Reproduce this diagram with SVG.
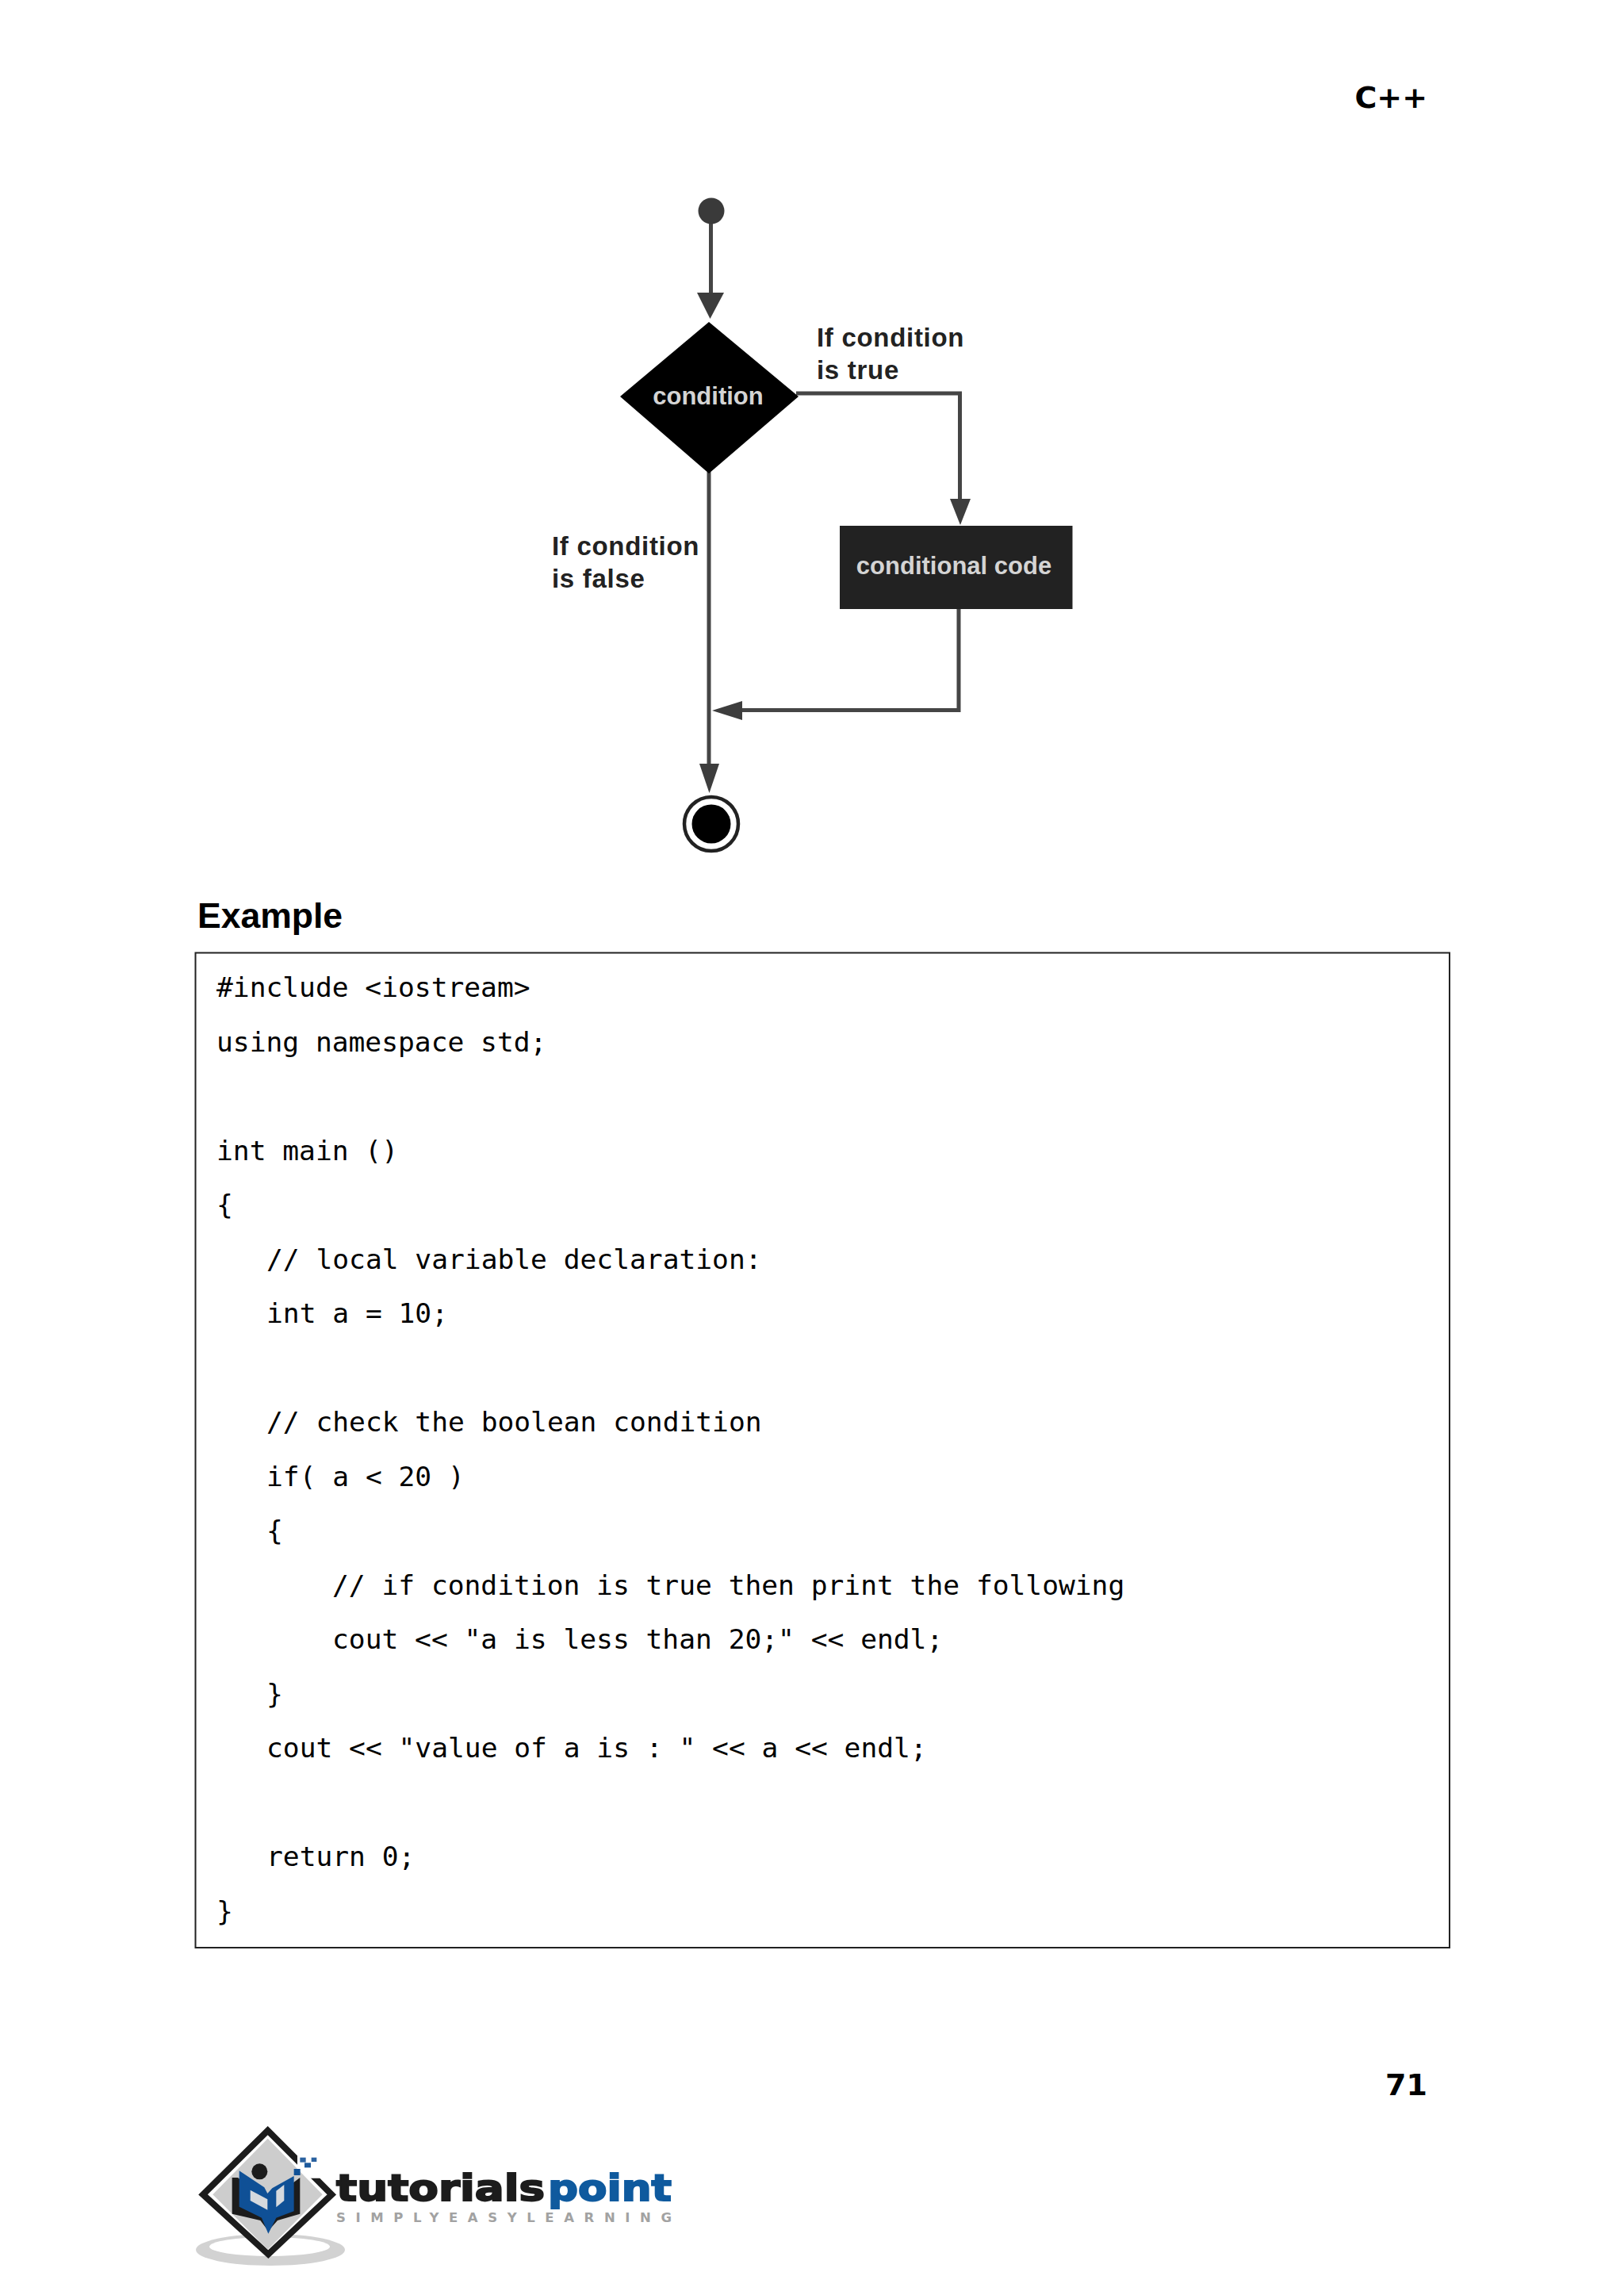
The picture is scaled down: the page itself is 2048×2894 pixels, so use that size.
<svg xmlns="http://www.w3.org/2000/svg" width="2048" height="2894" viewBox="0 0 2048 2894">
<style>
.c{fill:none;stroke:#454545;stroke-width:5}
.a{fill:#3d3d3d}
.lb{font:bold 33px "Liberation Sans",Arial,sans-serif;fill:#222;letter-spacing:.7px}
.nt{font:bold 31px "Liberation Sans",Arial,sans-serif;fill:#d4d4d4;text-anchor:middle}
.hd{font:bold 38px "DejaVu Sans",sans-serif;fill:#000}
.code{font:34.6px "DejaVu Sans Mono","Liberation Mono",monospace;fill:#000}
</style>
<rect width="2048" height="2894" fill="#fff"/>
<text class="hd" x="1800" y="136" text-anchor="end">C++</text>
<g id="connectors">
<path class="c" d="M896.500 280V372"/><polygon class="a" points="879,369 913,369 895.500,402"/>
<path class="c" d="M1004 496H1210.500V630"/><polygon class="a" points="1198,629 1224,629 1211,662"/>
<path class="c" d="M1209 768V895.500H930"/><polygon class="a" points="898,896 936,884 936,908"/>
<path class="c" d="M894 595V965"/><polygon class="a" points="882,963 907,963 894.500,1000"/>
</g>
<g id="start"><circle cx="897" cy="266" r="16.500" fill="#3a3a3a"/></g>
<g id="condition"><polygon points="894,406 1007,500 894,597 782,500" fill="#000"/><text class="nt" x="893" y="510">condition</text></g>
<g id="conditional-code"><rect x="1059" y="663" width="293.500" height="105" fill="#222"/><text class="nt" x="1203" y="724">conditional code</text></g>
<g id="end"><circle cx="897" cy="1039" r="34" fill="#fff" stroke="#222" stroke-width="4.500"/><circle cx="897" cy="1039" r="24.500" fill="#000"/></g>
<g id="labels">
<text class="lb" x="1030" y="437">If condition</text><text class="lb" x="1030" y="478">is true</text>
<text class="lb" x="696" y="700">If condition</text><text class="lb" x="696" y="741">is false</text>
</g>
<text x="249" y="1170" font-family="Liberation Sans,Arial,sans-serif" font-weight="bold" font-size="44.500" fill="#000">Example</text>
<g id="code">
<rect x="246.500" y="1201.500" width="1581.500" height="1254.500" fill="none" stroke="#222" stroke-width="2"/>
<text class="code" x="273" y="1257">#include &lt;iostream&gt;</text>
<text class="code" x="273" y="1325.500">using namespace std;</text>
<text class="code" x="273" y="1462.500">int main ()</text>
<text class="code" x="273" y="1531">{</text>
<text class="code" x="336" y="1599.500">// local variable declaration:</text>
<text class="code" x="336" y="1668">int a = 10;</text>
<text class="code" x="336" y="1805">// check the boolean condition</text>
<text class="code" x="336" y="1873.500">if( a &lt; 20 )</text>
<text class="code" x="336" y="1942">{</text>
<text class="code" x="419" y="2010.500">// if condition is true then print the following</text>
<text class="code" x="419" y="2079">cout &lt;&lt; "a is less than 20;" &lt;&lt; endl;</text>
<text class="code" x="336" y="2147.500">}</text>
<text class="code" x="336" y="2216">cout &lt;&lt; "value of a is : " &lt;&lt; a &lt;&lt; endl;</text>
<text class="code" x="336" y="2353">return 0;</text>
<text class="code" x="273" y="2421.500">}</text>
</g>
<text class="hd" x="1800" y="2642" text-anchor="end">71</text>
<g id="logo">
<ellipse cx="341" cy="2837" rx="94" ry="20" fill="#d2d2d2"/>
<ellipse cx="340" cy="2833" rx="76" ry="12" fill="#fff"/>
<g transform="translate(250 2680) scale(.3333)">
<polygon points="263,20 505,262 265,488 18,262" fill="#fff" stroke="#1c1c1c" stroke-width="24"/>
<polygon points="263,50 470,262 263,470 55,262" fill="#cdcdcd"/>
<polygon points="375,110 460,110 460,200 420,200 375,160" fill="#fff"/>
<polygon points="128,198 150,198 262,290 385,198 385,335 300,360 265,400 235,360 128,335" fill="#1c1c1c"/>
<polygon points="155,172 250,235 262,258 280,238 362,192 362,325 295,350 265,410 240,350 155,308" fill="#0f5096"/>
<polygon points="197,245 262,280 262,320 197,285" fill="#d5d9de"/>
<polygon points="295,248 325,225 325,285 295,310" fill="#d5d9de"/>
<circle cx="232" cy="175" r="30" fill="#1c1c1c"/>
<rect x="385" y="122" width="22" height="18" fill="#2b62a0"/>
<rect x="428" y="122" width="20" height="16" fill="#2b62a0"/>
<rect x="402" y="142" width="24" height="18" fill="#1d5a9c"/>
<rect x="362" y="165" width="24" height="24" fill="#0f5096"/>
</g>
<text x="424" y="2775" font-family="DejaVu Sans,sans-serif" font-weight="bold" font-size="47" fill="#1c1c1c" stroke="#1c1c1c" stroke-width="2" textLength="263" lengthAdjust="spacingAndGlyphs">tutorials</text>
<text x="691" y="2775" font-family="DejaVu Sans,sans-serif" font-weight="bold" font-size="47" fill="#0f5a9e" stroke="#0f5a9e" stroke-width="2" textLength="156" lengthAdjust="spacingAndGlyphs">point</text>
<text x="424" y="2802" font-family="DejaVu Sans,sans-serif" font-weight="bold" font-size="16.500" fill="#a2a2a2" textLength="423" lengthAdjust="spacing">SIMPLYEASYLEARNING</text>
</g>
</svg>
